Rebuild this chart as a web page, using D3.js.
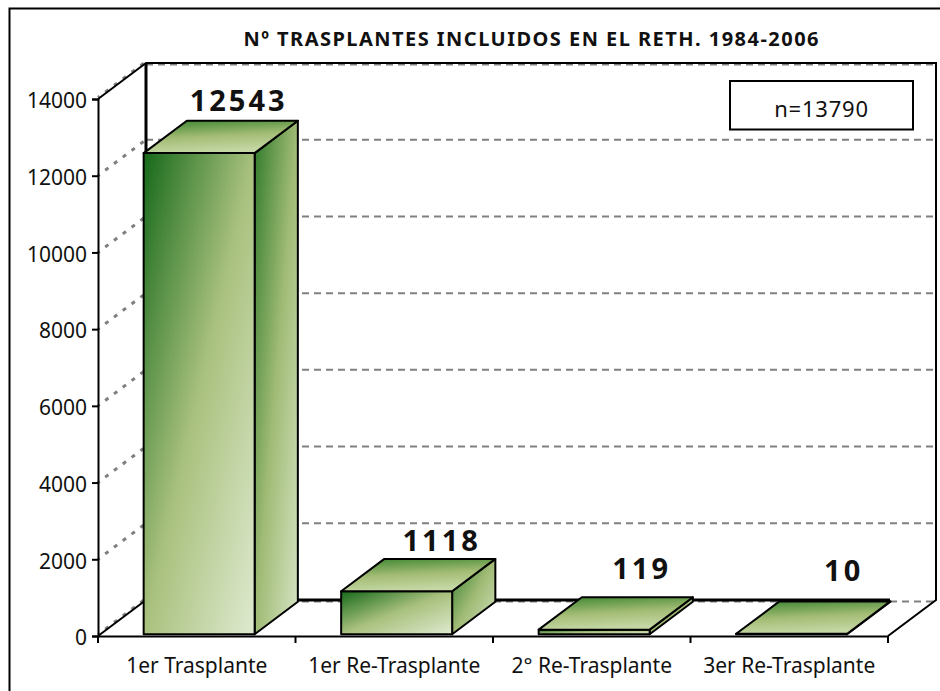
<!DOCTYPE html>
<html><head><meta charset="utf-8">
<script src="https://cdn.jsdelivr.net/npm/d3@7"></script>
<style>html,body{margin:0;padding:0;background:#fff;overflow:hidden}svg{display:block}text{font-family:"Noto Sans",sans-serif;fill:#111}</style>
</head><body><svg id="c" width="940" height="691"></svg>
<script>
const categories=["1er Trasplante","1er Re-Trasplante","2° Re-Trasplante","3er Re-Trasplante"];
const values=[12543,1118,119,10];
const yTicks=[0,2000,4000,6000,8000,10000,12000,14000];
const titleText="Nº TRASPLANTES INCLUIDOS EN EL RETH. 1984-2006";
const noteText="n=13790";

const svg=d3.select("#c");
const DX=48,DY=-36;
const y=d3.scaleLinear().domain([0,14000]).range([636,99]);
const x=d3.scaleBand().domain(categories).range([98,888]).paddingInner(.438).paddingOuter(.219);
const P=(px,v,d)=>[px+d*DX,y(v)+d*DY];
const line=d3.line();

const defs=svg.append("defs");
function grad(id,x2,y2,stops){
  const g=defs.append("linearGradient").attr("id",id).attr("x1",0).attr("y1",0).attr("x2",x2).attr("y2",y2);
  stops.forEach(s=>g.append("stop").attr("offset",s[0]).attr("stop-color",s[1]));
}
grad("front",1,1,[[0,"#16691a"],[.5,"#a9c17e"],[1,"#dfead0"]]);
grad("side",1,1,[[0,"#2f7a2a"],[.5,"#a0bb75"],[1,"#d6e4c4"]]);
grad("top",.25,1,[[0,"#3a8430"],[.55,"#a3bc74"],[1,"#c4d7a4"]]);

// frame
svg.append("path").attr("d","M9.5,691V8.5H940").attr("fill","none").attr("stroke","#000").attr("stroke-width",2);

// title
svg.append("text").attr("x",531).attr("y",46).attr("text-anchor","middle")
  .attr("font-size",20).attr("font-weight",700).attr("textLength",575).attr("lengthAdjust","spacing").text(titleText);

// grid on back and side walls
yTicks.forEach(t=>{
  const a=P(98,t,0),b=P(98,t,1),c=P(888,t,1);
  const off=(t===14000||t===0)?1.5:0;
  svg.append("path").attr("fill","none").attr("stroke","#808080").attr("stroke-width",2).attr("stroke-dasharray","7,5")
    .attr("d",line([[b[0],b[1]+off],[c[0],c[1]+off]]));
  svg.append("path").attr("fill","none").attr("stroke","#808080").attr("stroke-width",3).attr("stroke-dasharray","4,7").attr("stroke-dashoffset",-9)
    .attr("d",line([[a[0],a[1]-off],[b[0],b[1]-off]]));
});

// wall outline
const wall=svg.append("g").attr("fill","none").attr("stroke","#000").attr("stroke-width",2);
wall.append("path").attr("d",line([P(98,14000,0),P(98,14000,1),P(888,14000,1),P(888,0,1),P(888,0,0)]));
wall.append("path").attr("d",line([P(98,0,0),P(98,0,1)]));
wall.append("path").attr("stroke-width",3).attr("d",line([P(98,0,1),P(98,14000,1)]));
wall.append("path").attr("stroke-width",3).attr("d",line([[297,P(98,0,1)[1]],[890,P(98,0,1)[1]]]));

// axes
const axL=svg.append("g").attr("transform","translate(98,0)").call(d3.axisLeft(y).tickValues(yTicks).tickFormat(d3.format("d")).tickSize(6).tickPadding(5));
const axB=svg.append("g").attr("transform","translate(0,636)").call(d3.axisBottom(x).tickSize(0).tickPadding(22));
[axL,axB].forEach(a=>{a.selectAll(".domain").attr("stroke","#000").attr("stroke-width",2);
  a.selectAll("text").attr("font-size",21).attr("font-family",'"Noto Sans",sans-serif').attr("fill","#111");
  a.selectAll("line").attr("stroke","#000").attr("stroke-width",2);});
axB.selectAll(".tick text").attr("dy","0.71em");
axL.selectAll(".tick text").attr("dy","0.42em");
d3.range(5).forEach(i=>{
  const px=98+i*x.step();
  axB.append("line").attr("x1",px).attr("x2",px).attr("y1",0).attr("y2",7).attr("stroke","#000").attr("stroke-width",2);
});

// bars
const D0=.05,D1=.95;
const labelRise=[10,8,18,20];
const labelShift=[39.5,45,47.5,52];
const bars=svg.append("g").attr("stroke","#000").attr("stroke-width",2).attr("stroke-linejoin","round");
categories.forEach((c,i)=>{
  const l=x(c),r=l+x.bandwidth(),v=values[i];
  const poly=(pts,f)=>bars.append("path").attr("d",line(pts)+"Z").attr("fill",f);
  poly([P(r,0,D0),P(r,0,D1),P(r,v,D1),P(r,v,D0)],"url(#side)");
  poly([P(l,v,D0),P(r,v,D0),P(r,0,D0),P(l,0,D0)],"url(#front)");
  poly([P(l,v,D0),P(r,v,D0),P(r,v,D1),P(l,v,D1)],"url(#top)");
  const t=P((l+r)/2,v,D1);
  svg.append("text").attr("x",P((l+r)/2,0,D0)[0]+labelShift[i]).attr("y",t[1]-labelRise[i])
    .attr("text-anchor","middle").attr("font-size",29).attr("font-weight",700).attr("letter-spacing",3).text(d3.format("d")(v));
});

// note box
svg.append("rect").attr("x",730).attr("y",81).attr("width",183).attr("height",48.5).attr("fill","#fff").attr("stroke","#000").attr("stroke-width",2);
svg.append("text").attr("x",821.5).attr("y",117).attr("text-anchor","middle").attr("font-size",22).attr("letter-spacing",.8).text(noteText);
</script></body></html>
